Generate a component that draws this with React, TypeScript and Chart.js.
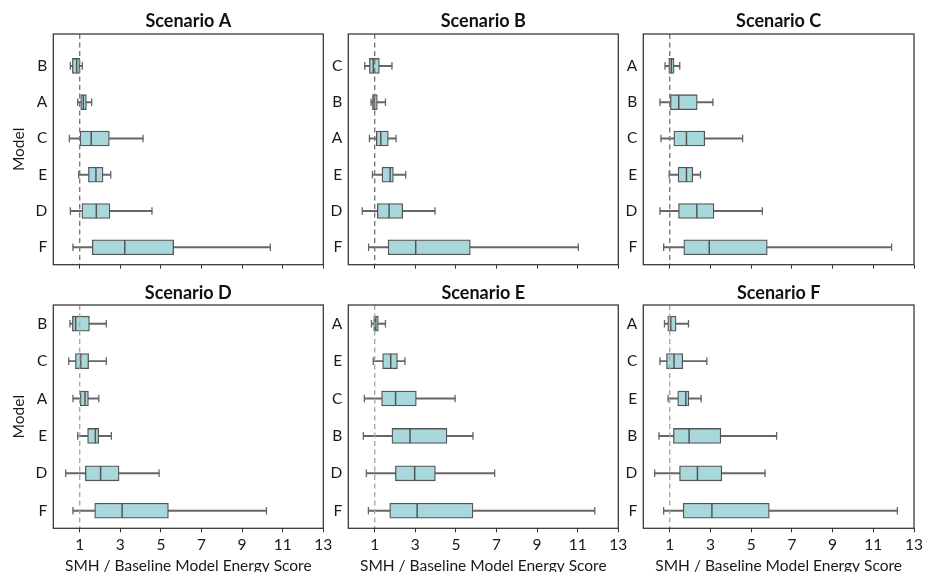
import React, { useEffect, useRef } from 'react';
import { Chart, registerables } from 'chart.js';

Chart.register(...registerables);

// ---------- data ----------
const xTicks = [1, 3, 5, 7, 9, 11, 13];
const refValue = 1;

const titleA = 'Scenario A';
const modelsA = ['B', 'A', 'C', 'E', 'D', 'F'];
const minA = [0.54, 0.9, 0.49, 0.95, 0.54, 0.67];
const q1A = [0.64, 1.05, 1.02, 1.43, 1.11, 1.62];
const medA = [0.85, 1.18, 1.57, 1.8, 1.82, 3.22];
const q3A = [1.0, 1.33, 2.46, 2.15, 2.49, 5.63];
const maxA = [1.13, 1.59, 4.12, 2.53, 4.56, 10.39];

const titleB = 'Scenario B';
const modelsB = ['C', 'B', 'A', 'E', 'D', 'F'];
const minB = [0.51, 0.82, 0.74, 0.89, 0.39, 0.7];
const q1B = [0.74, 0.89, 1.08, 1.36, 1.13, 1.66];
const medB = [0.93, 0.98, 1.3, 1.76, 1.71, 3.02];
const q3B = [1.23, 1.13, 1.67, 1.92, 2.38, 5.71];
const maxB = [1.85, 1.53, 2.05, 2.53, 3.97, 11.03];

const titleC = 'Scenario C';
const modelsC = ['A', 'B', 'C', 'E', 'D', 'F'];
const minC = [0.77, 0.52, 0.57, 0.97, 0.52, 0.7];
const q1C = [0.95, 1.03, 1.2, 1.41, 1.43, 1.69];
const medC = [1.08, 1.44, 1.82, 1.82, 2.33, 2.94];
const q3C = [1.21, 2.35, 2.72, 2.13, 3.17, 5.79];
const maxC = [1.49, 3.12, 4.58, 2.51, 5.55, 11.9];

const titleD = 'Scenario D';
const modelsD = ['B', 'C', 'A', 'E', 'D', 'F'];
const minD = [0.52, 0.46, 0.67, 0.9, 0.31, 0.67];
const q1D = [0.64, 0.79, 1.03, 1.39, 1.28, 1.74];
const medD = [0.8, 1.05, 1.26, 1.77, 2.03, 3.09];
const q3D = [1.48, 1.44, 1.43, 1.94, 2.94, 5.37];
const maxD = [2.31, 2.31, 1.94, 2.56, 4.91, 10.2];

const titleE = 'Scenario E';
const modelsE = ['A', 'E', 'C', 'B', 'D', 'F'];
const minE = [0.84, 0.93, 0.49, 0.44, 0.59, 0.69];
const q1E = [0.95, 1.39, 1.34, 1.85, 2.02, 1.74];
const medE = [1.05, 1.79, 2.03, 2.74, 2.97, 3.09];
const q3E = [1.18, 2.12, 3.05, 4.56, 3.99, 5.84];
const maxE = [1.53, 2.49, 4.96, 5.84, 6.91, 11.84];

const titleF = 'Scenario F';
const modelsF = ['A', 'C', 'E', 'B', 'D', 'F'];
const minF = [0.74, 0.52, 0.92, 0.47, 0.26, 0.7];
const q1F = [0.9, 0.84, 1.39, 1.18, 1.48, 1.66];
const medF = [1.05, 1.21, 1.79, 1.95, 2.36, 3.07];
const q3F = [1.31, 1.64, 1.94, 3.51, 3.56, 5.89];
const maxF = [1.92, 2.82, 2.54, 6.25, 5.68, 12.18];

const xAxisLabel = 'SMH / Baseline Model Energy Score';
const yAxisLabel = 'Model';

const panels = [
  { title: titleA, models: modelsA, min: minA, q1: q1A, med: medA, q3: q3A, max: maxA },
  { title: titleB, models: modelsB, min: minB, q1: q1B, med: medB, q3: q3B, max: maxB },
  { title: titleC, models: modelsC, min: minC, q1: q1C, med: medC, q3: q3C, max: maxC },
  { title: titleD, models: modelsD, min: minD, q1: q1D, med: medD, q3: q3D, max: maxD },
  { title: titleE, models: modelsE, min: minE, q1: q1E, med: medE, q3: q3E, max: maxE },
  { title: titleF, models: modelsF, min: minF, q1: q1F, med: medF, q3: q3F, max: maxF },
];

// ---------- layout ----------
const COLS = [
  { left: 0, width: 338, axisW: 53.3, plotW: 270 },
  { left: 308, width: 325, axisW: 40.3, plotW: 270 },
  { left: 603, width: 326, axisW: 40.3, plotW: 270.7 },
];
const ROWS = [
  { top: 0, height: 280, tTop: 10.2, tBottom: 2.2, xAxisH: 9.3, yMin: -0.88, yMax: 5.48, labels: false, dash: '#7a7a7a' },
  { top: 280, height: 300, tTop: 2.5, tBottom: 0.9, xAxisH: 51.7, yMin: -0.5, yMax: 5.47, labels: true, dash: '#a8a8a8' },
];

const FONT = 'Lato, "DejaVu Sans", sans-serif';
const BOX_FILL = '#a8d8dc';
const BOX_EDGE = '#555555';
const WHISKER = '#666666';

const framePlugin = {
  id: 'frame',
  afterDraw(chart: any) {
    const { ctx, chartArea } = chart;
    ctx.save();
    ctx.strokeStyle = '#333333';
    ctx.lineWidth = 1.25;
    ctx.strokeRect(chartArea.left, chartArea.top, chartArea.right - chartArea.left, chartArea.bottom - chartArea.top);
    ctx.restore();
  },
};

function Panel({ index }: { index: number }) {
  const ref = useRef<HTMLCanvasElement | null>(null);
  const p = panels[index];
  const col = COLS[index % 3];
  const row = ROWS[Math.floor(index / 3)];

  useEffect(() => {
    if (!ref.current) return;
    const idx = p.models.map((_, i) => i);
    const chart = new Chart(ref.current, {
      type: 'bar',
      data: {
        datasets: [
          {
            type: 'bar',
            indexAxis: 'y',
            data: idx.map((i) => ({ y: i, x: [p.min[i], p.max[i]] })),
            backgroundColor: WHISKER,
            borderWidth: 0,
            barThickness: 1.3,
            grouped: false,
            order: 5,
          } as any,
          {
            type: 'bar',
            indexAxis: 'y',
            data: idx.map((i) => ({ y: i, x: [p.q1[i], p.q3[i]] })),
            backgroundColor: BOX_FILL,
            borderColor: BOX_EDGE,
            borderWidth: 1.3,
            borderSkipped: false,
            barThickness: 15,
            grouped: false,
            order: 4,
          } as any,
          {
            type: 'scatter',
            data: idx.flatMap((i) => [
              { x: p.min[i], y: i },
              { x: p.max[i], y: i },
            ]),
            pointStyle: 'line',
            rotation: 90,
            pointRadius: 3.8,
            pointHoverRadius: 3.8,
            borderColor: WHISKER,
            pointBorderColor: WHISKER,
            pointBorderWidth: 1.3,
            order: 3,
          } as any,
          {
            type: 'scatter',
            data: idx.map((i) => ({ x: p.med[i], y: i })),
            pointStyle: 'line',
            rotation: 90,
            pointRadius: 7.3,
            pointHoverRadius: 7.3,
            borderColor: BOX_EDGE,
            pointBorderColor: BOX_EDGE,
            pointBorderWidth: 1.5,
            order: 2,
          } as any,
          {
            type: 'scatter',
            data: [
              { x: refValue, y: row.yMin },
              { x: refValue, y: row.yMax },
            ],
            showLine: true,
            borderColor: row.dash,
            borderWidth: 1.4,
            borderDash: [5, 3.5],
            pointRadius: 0,
            pointHoverRadius: 0,
            order: 1,
          } as any,
        ],
      },
      options: {
        responsive: false,
        animation: false,
        events: [],
        layout: { padding: { left: 0, top: 0, bottom: 0, right: col.width - col.axisW - col.plotW } },
        plugins: {
          legend: { display: false },
          tooltip: { enabled: false },
          title: {
            display: true,
            text: p.title,
            fullSize: false,
            color: '#111111',
            font: { family: FONT, size: 18, weight: 'bold', lineHeight: 1.2 },
            padding: { top: row.tTop, bottom: row.tBottom },
          },
        },
        scales: {
          x: {
            type: 'linear',
            axis: 'x',
            position: 'bottom',
            offset: false,
            bounds: 'data',
            min: -0.3,
            max: 13,
            afterBuildTicks: (scale: any) => {
              scale.ticks = xTicks.map((v) => ({ value: v }));
            },
            afterFit: (scale: any) => {
              scale.height = row.xAxisH;
            },
            border: { display: false },
            grid: { display: true, offset: false, drawOnChartArea: false, drawTicks: true, tickLength: 4, color: '#333333', lineWidth: 1 },
            ticks: {
              display: row.labels,
              padding: 3,
              color: '#1a1a1a',
              font: { family: FONT, size: 15.5 },
              maxRotation: 0,
              autoSkip: false,
              callback: (v: any) => String(v),
            },
            title: {
              display: row.labels,
              text: xAxisLabel,
              color: '#1a1a1a',
              font: { family: FONT, size: 15.5, lineHeight: 1.2 },
              padding: { top: 0, bottom: 5 },
            },
          },
          y: {
            type: 'linear',
            axis: 'y',
            position: 'left',
            offset: false,
            bounds: 'data',
            reverse: true,
            min: row.yMin,
            max: row.yMax,
            afterBuildTicks: (scale: any) => {
              scale.ticks = idx.map((v) => ({ value: v }));
            },
            afterFit: (scale: any) => {
              scale.width = col.axisW;
            },
            border: { display: false },
            grid: { display: false, offset: false, drawTicks: false },
            ticks: {
              padding: 6,
              color: '#1a1a1a',
              font: { family: FONT, size: 15.5 },
              autoSkip: false,
              callback: (v: any) => p.models[Math.round(Number(v))] ?? '',
            },
            title: {
              display: index % 3 === 0,
              text: yAxisLabel,
              color: '#1a1a1a',
              font: { family: FONT, size: 15.5, lineHeight: 1.2 },
              padding: { top: 10, bottom: 0 },
            },
          },
        },
      },
      plugins: [framePlugin],
    } as any);
    return () => chart.destroy();
  }, []);

  return (
    <canvas
      ref={ref}
      width={col.width}
      height={row.height}
      style={{ position: 'absolute', left: col.left, top: row.top, width: col.width, height: row.height }}
    />
  );
}

export default function App() {
  return (
    <div
      style={{
        position: 'fixed',
        left: 0,
        top: 0,
        width: 925,
        height: 572,
        overflow: 'hidden',
        background: '#ffffff',
      }}
    >
      {panels.map((_, i) => (
        <Panel key={i} index={i} />
      ))}
    </div>
  );
}
